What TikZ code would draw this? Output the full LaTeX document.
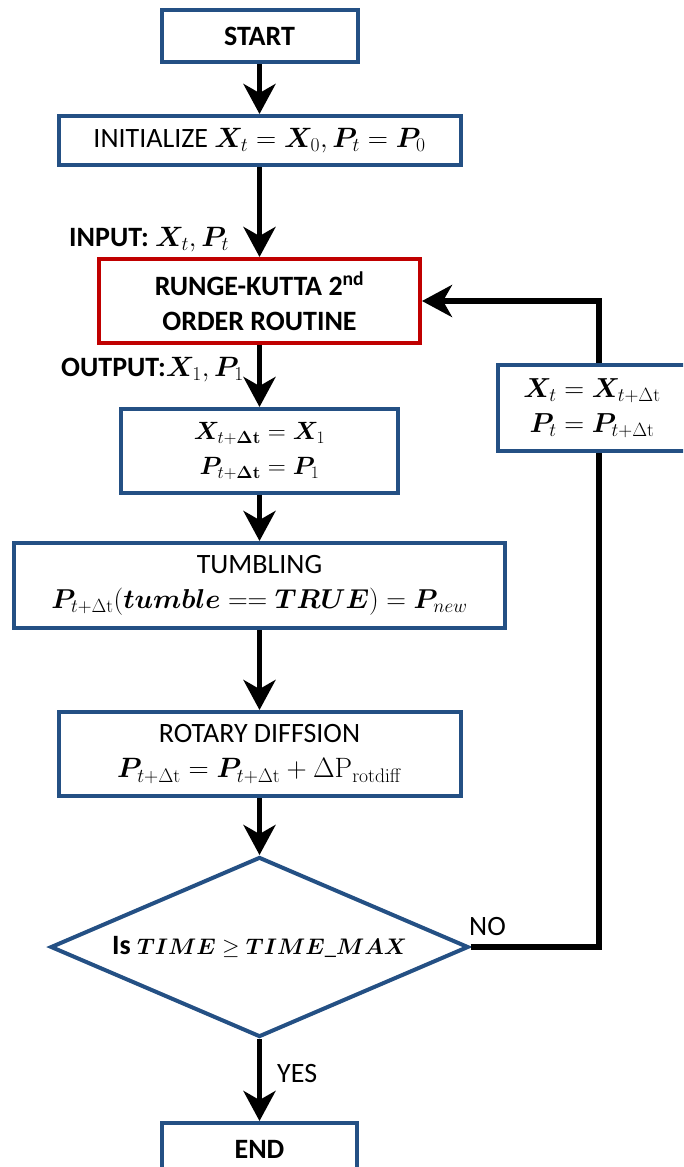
\RequirePackage{fix-cm}
\documentclass[tikz,border=0pt]{standalone}
\usepackage[no-math]{fontspec}
\setmainfont{Carlito}
\usepackage{amsmath,bm}
\usetikzlibrary{arrows.meta,shapes.geometric}

\definecolor{boxblue}{RGB}{36,80,132}
\definecolor{boxred}{RGB}{192,0,0}

% formula at a given size (default 28pt)
\newcommand{\fml}[2][28]{{\fontsize{#1}{35}\selectfont$#2$}}

\begin{document}
\begin{tikzpicture}[x=1pt,y=-1pt,
  every node/.style={font=\fontsize{28}{35}\selectfont},
  stepbox/.style={draw=boxblue, line width=4pt, rectangle, inner sep=0pt, align=center},
  boldtext/.style={font=\fontsize{28}{35}\selectfont\bfseries},
  flow/.style={line width=5.5pt, -{Stealth[length=30pt,width=32pt,inset=9pt]}},
  link/.style={line width=5.5pt},
  lbl/.style={inner sep=0pt}]

\useasboundingbox (0,0) rectangle (683,1167);
\clip (0,0) rectangle (683,1167);

% main column
\node[stepbox, boldtext, minimum width=196, minimum height=52] (start) at (259.5,36) {START};
\node[stepbox, minimum width=402, minimum height=49] (init) at (259.5,140.5)
  {INITIALIZE \fml{\bm{X}_t=\bm{X}_0, \bm{P}_t=\bm{P}_0}};
\node[stepbox, boldtext, draw=boxred, minimum width=321, minimum height=84] (rk) at (259.5,301)
  {RUNGE-KUTTA 2\textsuperscript{nd}\\ORDER ROUTINE};
\node[stepbox, minimum width=277, minimum height=84] (upd) at (259.5,451)
  {\fml[25]{\bm{X}_{t+\bm{\Delta}\mathbf{t}}=\bm{X}_1}\\\fml[25]{\bm{P}_{t+\bm{\Delta}\mathbf{t}}=\bm{P}_1}};
\node[stepbox, minimum width=491, minimum height=85] (tumb) at (259.5,585.5)
  {TUMBLING\\\fml[27.3]{\bm{P}_{t+\Delta\mathrm{t}}(\bm{tumble}==\bm{TRUE})=\bm{P}_{new}}};
\node[stepbox, minimum width=402, minimum height=84] (rot) at (259.5,754)
  {ROTARY DIFFSION\\\fml{\bm{P}_{t+\Delta\mathrm{t}}=\bm{P}_{t+\Delta\mathrm{t}}+\Delta\mathrm{P}_{\mathrm{rotdiff}}}};
\node[draw=boxblue, line width=4pt, diamond, shape aspect=2.32, inner sep=0pt,
      minimum width=418, minimum height=180] (dec) at (259.5,947)
  {\textbf{Is} \fml[22.5]{\bm{TIME}\geq\bm{TIME\_MAX}}};
\node[stepbox, boldtext, minimum width=195, minimum height=52] (end) at (259.5,1149) {END};

% update box on the feedback loop
\node[stepbox, minimum width=188, minimum height=86] (back) at (592,408)
  {\fml[27.5]{\bm{X}_t=\bm{X}_{t+\Delta\mathrm{t}}}\\\fml[27.5]{\bm{P}_t=\bm{P}_{t+\Delta\mathrm{t}}}};

% side labels
\node[lbl, boldtext, anchor=base west] (inlbl) at (69,246) {INPUT: \fml{\bm{X}_t, \bm{P}_t}};
\node[lbl, boldtext, anchor=base west] (outlbl) at (61,376) {OUTPUT:\fml{\bm{X}_1, \bm{P}_1}};
\node[lbl, anchor=base west] (nolbl) at (469,935) {NO};
\node[lbl, anchor=base west] (yeslbl) at (277,1082) {YES};

% connectors
\draw[flow] (start.south) -- (init.north);
\draw[flow] (init.south) -- (rk.north);
\draw[flow] (rk.south) -- (upd.north);
\draw[flow] (upd.south) -- (tumb.north);
\draw[flow] (tumb.south) -- (rot.north);
\draw[flow] (rot.south) -- (dec.north);
\draw[flow] (dec.south) -- (end.north);

\coordinate (turn) at (599,947);
\draw[link] (dec.east) -- (turn) -- (turn |- back.south);
\draw[flow] (turn |- back.north) |- (rk.east);
\end{tikzpicture}
\end{document}
